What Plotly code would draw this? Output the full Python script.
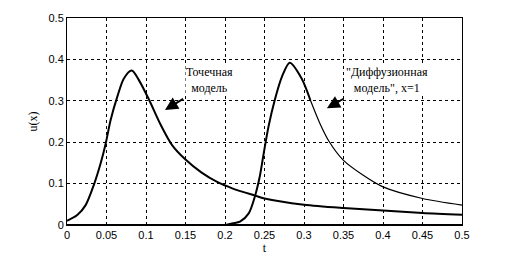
import plotly.graph_objects as go

# Point model curve
t_point = [0, 0.013, 0.0236, 0.034, 0.0426, 0.049, 0.0553, 0.0637, 0.072, 0.082, 0.091,
           0.104, 0.1186, 0.133, 0.15, 0.17, 0.19, 0.21, 0.238, 0.25, 0.3, 0.35, 0.4,
           0.45, 0.5]
u_point = [0.01, 0.024, 0.048, 0.097, 0.149, 0.197, 0.254, 0.31, 0.354, 0.373, 0.35,
           0.302, 0.242, 0.193, 0.158, 0.127, 0.104, 0.088, 0.071, 0.064, 0.049, 0.041,
           0.035, 0.029, 0.025]

# Diffusion model curve (thick part, then thin tail)
t_diff = [0, 0.2, 0.21, 0.219, 0.23, 0.238, 0.244, 0.249, 0.255, 0.263, 0.272, 0.282,
          0.297, 0.308]
u_diff = [0, 0, 0.004, 0.008, 0.028, 0.07, 0.117, 0.173, 0.237, 0.302, 0.358, 0.392,
          0.354, 0.302]
t_diff_tail = [0.308, 0.32, 0.332, 0.35, 0.375, 0.4, 0.45, 0.5]
u_diff_tail = [0.302, 0.246, 0.201, 0.156, 0.12, 0.092, 0.064, 0.048]

x_ticks = [0, 0.05, 0.1, 0.15, 0.2, 0.25, 0.3, 0.35, 0.4, 0.45, 0.5]
x_tick_labels = ["0", "0.05", "0.1", "0.15", "0.2", "0.25", "0.3", "0.35", "0.4", "0.45", "0.5"]
y_ticks = [0, 0.1, 0.2, 0.3, 0.4, 0.5]
y_tick_labels = ["0", "0.1", "0.2", "0.3", "0.4", "0.5"]

label_point = "Точечная<br>модель"
label_diff = "\"Диффузионная<br>модель\", x=1"

fig = go.Figure()
fig.add_trace(go.Scatter(x=t_point, y=u_point, mode="lines",
                         line=dict(color="black", width=2, shape="spline", smoothing=0.8),
                         showlegend=False))
fig.add_trace(go.Scatter(x=t_diff, y=u_diff, mode="lines",
                         line=dict(color="black", width=2, shape="spline", smoothing=0.8),
                         showlegend=False))
fig.add_trace(go.Scatter(x=t_diff_tail, y=u_diff_tail, mode="lines",
                         line=dict(color="black", width=1.2, shape="spline", smoothing=0.8),
                         showlegend=False))

tickfont = dict(family="Liberation Sans", size=11, color="black")
fig.update_xaxes(range=[0, 0.5], tickvals=x_ticks, ticktext=x_tick_labels,
                 showgrid=True, gridcolor="black", griddash="3px,3px", gridwidth=1,
                 showline=True, linecolor="black", linewidth=1, mirror=True,
                 zeroline=False, ticks="", tickfont=tickfont, automargin=False,
                 title=dict(text="t", font=dict(family="Liberation Serif", size=12, color="black"),
                            standoff=2))
fig.update_yaxes(range=[0, 0.5], tickvals=y_ticks, ticktext=y_tick_labels,
                 showgrid=True, gridcolor="black", griddash="3px,3px", gridwidth=1,
                 showline=True, linecolor="black", linewidth=1, mirror=True,
                 zeroline=False, ticks="", tickfont=tickfont, automargin=False,
                 title=dict(text="u(x)", font=dict(family="Liberation Serif", size=12, color="black"),
                            standoff=8))

fig.add_shape(type="line", xref="x domain", yref="y", x0=0, x1=1, y0=0, y1=0,
              line=dict(color="black", width=2))

annfont = dict(family="Liberation Serif", size=12, color="black")
fig.add_annotation(x=0.18, y=0.35, text=label_point, showarrow=False, font=annfont,
                   align="center", bgcolor="white", borderpad=0)
fig.add_annotation(x=0.405, y=0.35, text=label_diff, showarrow=False, font=annfont,
                   align="center", bgcolor="white", borderpad=0)
fig.add_annotation(x=0.124, y=0.278, ax=0.149, ay=0.307, axref="x", ayref="y",
                   text="", showarrow=True, arrowhead=2, arrowsize=1.3, arrowwidth=2,
                   arrowcolor="black")
fig.add_annotation(x=0.329, y=0.282, ax=0.352, ay=0.307, axref="x", ayref="y",
                   text="", showarrow=True, arrowhead=2, arrowsize=1.3, arrowwidth=2,
                   arrowcolor="black")

fig.update_layout(width=512, height=256, margin=dict(l=67, r=50, t=18, b=31),
                  plot_bgcolor="white", paper_bgcolor="white", showlegend=False)

fig.write_html("out.html", config={"displayModeBar": False},
               post_script="document.body.style.margin='0';document.body.style.overflow='hidden';")
